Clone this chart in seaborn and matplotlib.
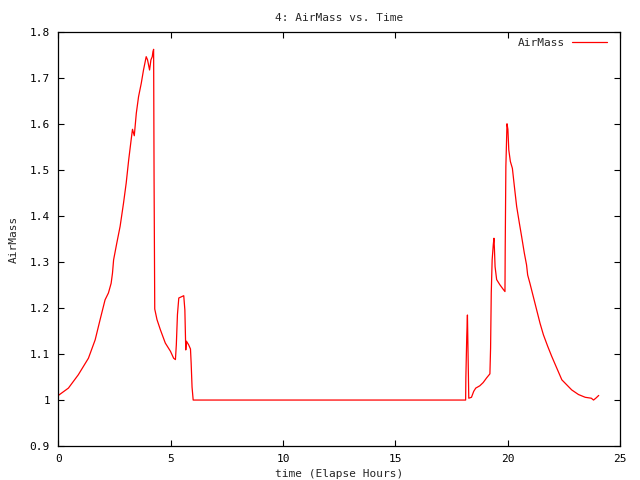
import pandas as pd
import seaborn as sns
import matplotlib.pyplot as plt

# AirMass readings over the night (elapsed hours)
hours = [
    0.00, 0.45, 0.89, 1.34, 1.64, 1.86, 2.08, 2.23, 2.35, 2.41, 2.46, 2.60,
    2.75, 2.90, 3.02, 3.13, 3.24, 3.30, 3.38, 3.47, 3.57, 3.69, 3.79, 3.91,
    3.97, 4.06, 4.12, 4.18, 4.21, 4.24, 4.26, 4.29, 4.39, 4.54, 4.76, 4.99,
    5.13, 5.21, 5.25, 5.30, 5.36, 5.58, 5.63, 5.67, 5.70, 5.80, 5.88, 5.91,
    5.95, 6.00, 18.12, 18.13, 18.17, 18.20, 18.23, 18.26, 18.38, 18.48, 18.57,
    18.75, 18.90, 19.05, 19.20, 19.23, 19.26, 19.30, 19.35, 19.38, 19.40, 19.43,
    19.50, 19.64, 19.79, 19.87, 19.88, 19.91, 19.96, 20.00, 20.04, 20.11, 20.20,
    20.29, 20.39, 20.51, 20.61, 20.73, 20.83, 20.88, 20.98, 21.13, 21.28, 21.43,
    21.58, 21.77, 21.95, 22.17, 22.40, 22.62, 22.84, 23.14, 23.44, 23.71, 23.81,
    23.91, 24.04,
]
airmass = [
    1.010, 1.026, 1.055, 1.091, 1.131, 1.175, 1.218, 1.233, 1.254, 1.276, 1.305, 1.341,
    1.378, 1.428, 1.472, 1.522, 1.566, 1.589, 1.575, 1.624, 1.660, 1.689, 1.718, 1.747,
    1.740, 1.718, 1.740, 1.747, 1.758, 1.763, 1.483, 1.198, 1.175, 1.153, 1.124, 1.106,
    1.091, 1.088, 1.120, 1.186, 1.222, 1.227, 1.196, 1.109, 1.128, 1.120, 1.111, 1.080,
    1.028, 1.000, 1.000, 1.048, 1.138, 1.185, 1.095, 1.004, 1.006, 1.019, 1.026,
    1.031, 1.038, 1.048, 1.057, 1.113, 1.233, 1.305, 1.338, 1.352, 1.330, 1.290,
    1.262, 1.251, 1.241, 1.236, 1.327, 1.508, 1.601, 1.589, 1.544, 1.519, 1.504,
    1.464, 1.421, 1.385, 1.356, 1.320, 1.294, 1.272, 1.254, 1.225, 1.196, 1.167,
    1.142, 1.117, 1.095, 1.070, 1.044, 1.033, 1.022, 1.012, 1.006, 1.004, 1.000,
    1.004, 1.010,
]

x_ticks = [0, 5, 10, 15, 20, 25]
y_ticks = [0.9, 1.0, 1.1, 1.2, 1.3, 1.4, 1.5, 1.6, 1.7, 1.8]
y_labels = ["0.9", "1", "1.1", "1.2", "1.3", "1.4", "1.5", "1.6", "1.7", "1.8"]

df = pd.DataFrame({"Hours": hours, "AirMass": airmass})

sns.set_style("ticks")
plt.rcParams["font.family"] = ["DejaVu Sans Mono"]
plt.rcParams["font.size"] = 8

fig = plt.figure(figsize=(6.4, 4.8), dpi=100)
ax = fig.add_axes([0.0911, 0.0708, 0.8781, 0.8619])

sns.lineplot(data=df, x="Hours", y="AirMass", color="red", linewidth=0.9,
             sort=False, estimator=None, label="AirMass", ax=ax)

ax.set_xlim(0, 25)
ax.set_ylim(0.9, 1.8)
ax.set_xticks(x_ticks)
ax.set_yticks(y_ticks)
ax.set_yticklabels(y_labels)
ax.tick_params(direction="in", length=4, width=0.8, top=True, right=True,
               labelsize=8, colors="black", pad=6)
for s in ax.spines.values():
    s.set_linewidth(0.9)
    s.set_color("black")

ax.set_title("4: AirMass vs. Time", fontsize=8, pad=8)
ax.set_xlabel("time (Elapse Hours)", fontsize=8, labelpad=3)
ax.set_ylabel("AirMass", fontsize=8, labelpad=8)

leg = ax.legend(loc="upper right", frameon=False, fontsize=8, markerfirst=False,
                handlelength=3.1, borderaxespad=0.3, handletextpad=0.6,
                bbox_to_anchor=(1 - 6 / 562, 1 + 2.5 / 413))

plt.savefig("out.png", dpi=100)
